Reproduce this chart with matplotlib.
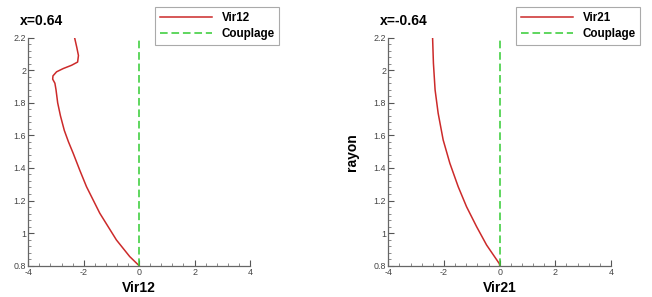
import numpy as np
import matplotlib
matplotlib.use("Agg")
import matplotlib.pyplot as plt
from matplotlib.ticker import MultipleLocator, AutoMinorLocator

DPI = 100
IMG_SIZE = (652, 297)  # (width, height)
plt.rcParams['font.family'] = ['Liberation Sans', 'DejaVu Sans']

# Vir12 profile at x=0.64
vir12 = [-2.33, -2.25, -2.19, -2.22, -2.44, -2.74, -2.98, -3.11, -3.12, -3.04,
         -3.0, -2.94, -2.84, -2.70, -2.55, -2.38, -2.14, -1.90, -1.42, -0.82, -0.34, 0.0]
rayon12 = [2.2, 2.14, 2.09, 2.05, 2.03, 2.01, 1.99, 1.965, 1.945, 1.92,
           1.88, 1.8, 1.72, 1.63, 1.56, 1.49, 1.385, 1.285, 1.122, 0.958, 0.856, 0.8]

# Vir21 profile at x=-0.64
vir21 = [-2.41, -2.38, -2.32, -2.21, -2.03, -1.79, -1.49, -1.19, -0.83, -0.47, -0.01, 0.0]
rayon21 = [2.2, 2.043, 1.879, 1.736, 1.572, 1.429, 1.285, 1.162, 1.04, 0.927, 0.812, 0.8]

coupling_x = [0, 0]
coupling_y = [0.8, 2.2]

panels = [
    ("x=0.64", "Vir12", vir12, rayon12, [0.0434, 0.1054, 0.340, 0.768], (0.2377, 0.976)),
    ("x=-0.64", "Vir21", vir21, rayon21, [0.5956, 0.1054, 0.3415, 0.768], (0.7914, 0.976)),
]

fig = plt.figure(figsize=(IMG_SIZE[0]/DPI, IMG_SIZE[1]/DPI), dpi=DPI)

for title, name, xs, ys, pos, leg_pos in panels:
    ax = fig.add_axes(pos)
    ax.plot(xs, ys, color="#cc2a2a", lw=1.1, label=name)
    ax.plot(coupling_x, coupling_y, color="#33cc33", lw=1.1, ls=(0, (5, 2.5)), label="Couplage")
    ax.set_xlim(-4, 4)
    ax.set_ylim(0.8, 2.2)
    ax.xaxis.set_minor_locator(AutoMinorLocator(5))
    ax.yaxis.set_minor_locator(AutoMinorLocator(5))
    ax.set_xticks([-4, -2, 0, 2, 4])
    ax.set_xticklabels(["-4", "-2", "0", "2", "4"])
    ax.set_yticks([0.8, 1, 1.2, 1.4, 1.6, 1.8, 2, 2.2])
    ax.set_yticklabels(["0.8", "1", "1.2", "1.4", "1.6", "1.8", "2", "2.2"])
    ax.tick_params(which="major", direction="in", length=4, width=0.8, color="#555555",
                   labelsize=6.4, labelcolor="#444444", pad=1.5)
    ax.tick_params(which="minor", direction="in", length=2, width=0.6, color="#777777")
    for s in ["top", "right"]:
        ax.spines[s].set_visible(False)
    for s in ["left", "bottom"]:
        ax.spines[s].set_color("#666666")
        ax.spines[s].set_linewidth(0.9)
    ax.set_xlabel(name, fontsize=10, fontweight="bold", labelpad=3)
    ax.set_ylabel("rayon", fontsize=10, fontweight="bold")
    ax.yaxis.set_label_coords(-0.13, 0.5)
    ax.text(-0.037, 1.073, title, transform=ax.transAxes, fontsize=10,
            fontweight="bold", ha="left", va="center")
    leg = fig.legend(handles=ax.get_lines(), loc="upper left", bbox_to_anchor=leg_pos,
                     bbox_transform=fig.transFigure, fancybox=False, framealpha=1,
                     edgecolor="#aaaaaa", prop={"weight": "bold", "size": 8.4},
                     handlelength=4.45, handletextpad=0.85, borderpad=0.4,
                     labelspacing=0.35, borderaxespad=0)
    leg.get_frame().set_linewidth(0.8)

plt.savefig("out.png", dpi=DPI)
